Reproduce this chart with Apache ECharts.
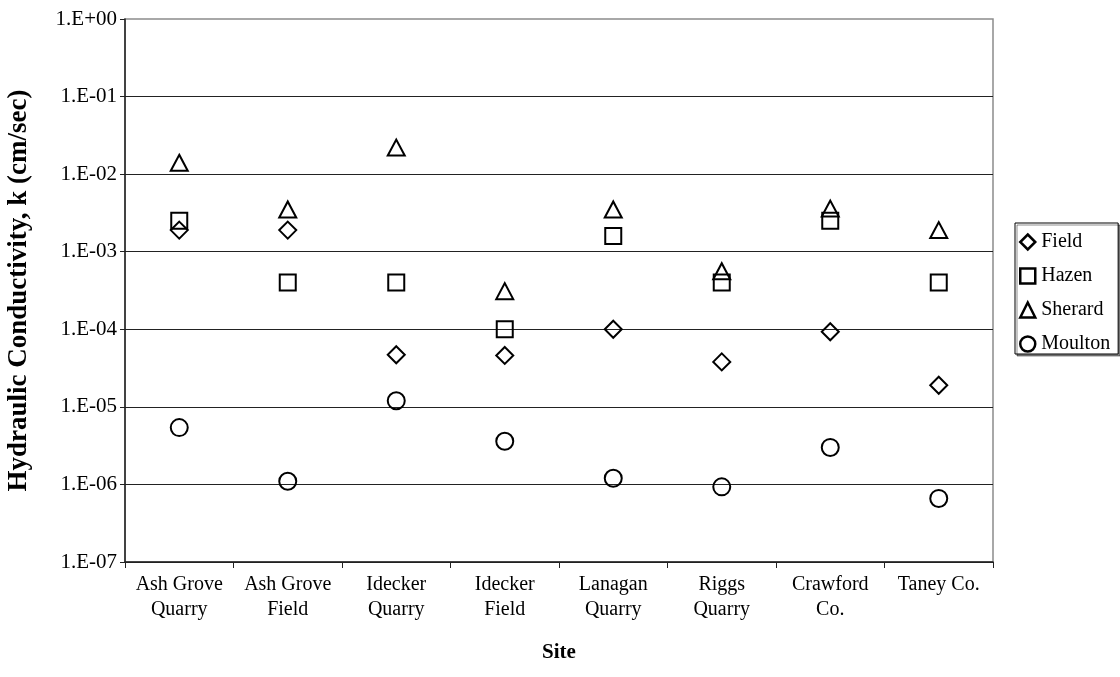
<!DOCTYPE html>
<html>
<head>
<meta charset="utf-8">
<script src="https://cdn.jsdelivr.net/npm/echarts@6/dist/echarts.min.js"></script>
<style>
html,body{margin:0;padding:0;background:#fff;}
#chart{width:1120px;height:677px;}
</style>
</head>
<body>
<div id="chart"></div>
<script>
var categories = ["Ash Grove\nQuarry","Ash Grove\nField","Idecker\nQuarry","Idecker\nField","Lanagan\nQuarry","Riggs\nQuarry","Crawford\nCo.","Taney Co."];
var fieldValues   = [1.9e-3, 1.9e-3, 4.7e-5, 4.6e-5, 1.0e-4, 3.8e-5, 9.3e-5, 1.9e-5];
var hazenValues   = [2.5e-3, 4.0e-4, 4.0e-4, 1.0e-4, 1.6e-3, 4.0e-4, 2.5e-3, 4.0e-4];
var sherardValues = [1.4e-2, 3.5e-3, 2.2e-2, 3.1e-4, 3.5e-3, 5.6e-4, 3.6e-3, 1.9e-3];
var moultonValues = [5.4e-6, 1.1e-6, 1.2e-5, 3.6e-6, 1.2e-6, 9.3e-7, 3.0e-6, 6.6e-7];
var seriesNames = ["Field","Hazen","Sherard","Moulton"];

var FONT = "'Liberation Serif','Times New Roman',serif";
var chart = echarts.init(document.getElementById('chart'), null, {renderer:'canvas'});

function mk(name, data, symbol, size){
  return {
    name: name, type: 'scatter', data: data, symbol: symbol, symbolSize: size,
    itemStyle: {color: 'rgba(0,0,0,0)', borderColor: '#000', borderWidth: 2, opacity: 1},
    emphasis: {disabled: true}
  };
}

var option = {
  animation: false,
  backgroundColor: '#fff',
  grid: {left: 125, right: 127, top: 19, bottom: 115, containLabel: false, outerBoundsMode: 'none',
         show: true, borderColor: '#8c8c8c', borderWidth: 1.5, backgroundColor: 'transparent'},
  legend: {
    orient: 'vertical', left: 1015, top: 223,
    data: seriesNames,
    itemWidth: 15, itemHeight: 15, itemGap: 14,
    padding: [9, 8, 0, 4],
    borderColor: '#000', borderWidth: 1, backgroundColor: '#fff',
    shadowColor: 'rgba(0,0,0,0.45)', shadowOffsetX: 2, shadowOffsetY: 2, shadowBlur: 0,
    itemStyle: {borderWidth: 2.5, borderColor: '#000'},
    textStyle: {fontFamily: FONT, fontSize: 20, color: '#000', padding: [0,0,0,1]}
  },
  xAxis: {
    type: 'category', data: categories, boundaryGap: true,
    name: 'Site', nameLocation: 'middle', nameGap: 80,
    nameTextStyle: {fontFamily: FONT, fontSize: 21, fontWeight: 'bold', color: '#000'},
    axisLine: {lineStyle: {color: '#222', width: 1.5}},
    axisTick: {show: true, inside: false, length: 6, lineStyle: {color: '#222', width: 1}},
    axisLabel: {fontFamily: FONT, fontSize: 20, color: '#000', lineHeight: 25, margin: 10, interval: 0},
    splitLine: {show: false}
  },
  yAxis: {
    type: 'log', logBase: 10, min: 1e-7, max: 1,
    name: 'Hydraulic Conductivity, k (cm/sec)', nameLocation: 'middle', nameGap: 92, nameRotate: 90,
    nameTextStyle: {fontFamily: FONT, fontSize: 27, fontWeight: 'bold', color: '#000'},
    axisLine: {show: true, lineStyle: {color: '#222', width: 1.5}},
    axisTick: {show: true, inside: false, length: 5, lineStyle: {color: '#222', width: 1}},
    minorTick: {show: false},
    axisLabel: {
      fontFamily: FONT, fontSize: 21, color: '#000', margin: 8,
      formatter: function(v){
        var e = Math.round(Math.log10(v));
        return '1.E' + (e < 0 ? '-' : '+') + String(Math.abs(e)).padStart(2, '0');
      }
    },
    splitLine: {show: true, lineStyle: {color: ['#222','#222','#222','#222','#222','#222','#222','rgba(0,0,0,0)'], width: 1}}
  },
  series: [
    mk(seriesNames[0], fieldValues, 'diamond', [17, 17]),
    mk(seriesNames[1], hazenValues, 'rect', [16, 16]),
    mk(seriesNames[2], sherardValues, 'triangle', [17, 16]),
    mk(seriesNames[3], moultonValues, 'circle', 17)
  ]
};
chart.setOption(option);
</script>
</body>
</html>
